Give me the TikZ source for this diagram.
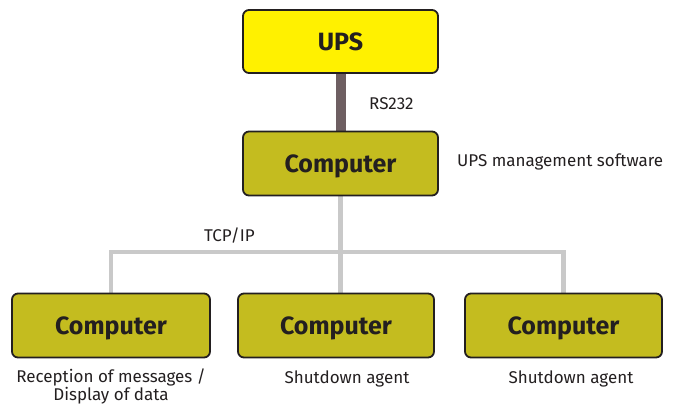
\documentclass[tikz,border=0pt]{standalone}
\usepackage{fontspec}
\setmainfont{Fira Sans}
\usetikzlibrary{backgrounds}
\definecolor{upsyellow}{HTML}{FFF100}
\definecolor{pcolive}{HTML}{C4BC1F}
\definecolor{boxline}{HTML}{231F20}
\definecolor{serial}{HTML}{6E5F62}
\definecolor{lan}{HTML}{C9C9C9}
\begin{document}
\begin{tikzpicture}[x=1pt,y=-1pt,
  box/.style={draw=boxline, line width=1.8pt, rounded corners=6pt, inner sep=0pt,
    text depth=0pt, font=\fontsize{25}{28}\selectfont\bfseries, text=boxline},
  upsbox/.style={box, fill=upsyellow, minimum width=195pt, minimum height=63pt},
  pcbox/.style={box, fill=pcolive, minimum height=64pt},
  lbl/.style={font=\fontsize{17}{15.5}\selectfont, text=boxline, inner sep=0pt},
  lanline/.style={draw=lan, line width=4.5pt},
  serialline/.style={draw=serial, line width=10pt}]
\useasboundingbox (0,0) rectangle (692,405);
\node[upsbox] (ups) at (340.5,41.5) {UPS};
\node[pcbox, minimum width=195pt] (top) at (340.5,163.5) {Computer};
\node[pcbox, minimum width=198pt] (b1) at (111,325.5) {Computer};
\node[pcbox, minimum width=196pt] (b2) at (336,325.5) {Computer};
\node[pcbox, minimum width=197pt] (b3) at (563.5,325.5) {Computer};
\coordinate (j) at (340.5,252);
\begin{scope}[on background layer]
\draw[serialline] (ups.south) -- (top.north);
\draw[lanline] (top.south) -- (top.south |- b2.north);
\draw[lanline] (b1.north) |- (j) -| (b3.north);
\end{scope}
\node[lbl, anchor=west] (rs) at (369,104) {RS232};
\node[lbl, anchor=west] (sw) at (457,162) {UPS management software};
\node[lbl, anchor=west] (tcp) at (204,236) {TCP/IP};
\node[lbl, align=center] (l1) at (111,386.5) {Reception of messages /\\Display of data};
\node[lbl] (l2) at (347,379) {Shutdown agent};
\node[lbl] (l3) at (571,379) {Shutdown agent};
\end{tikzpicture}
\end{document}
